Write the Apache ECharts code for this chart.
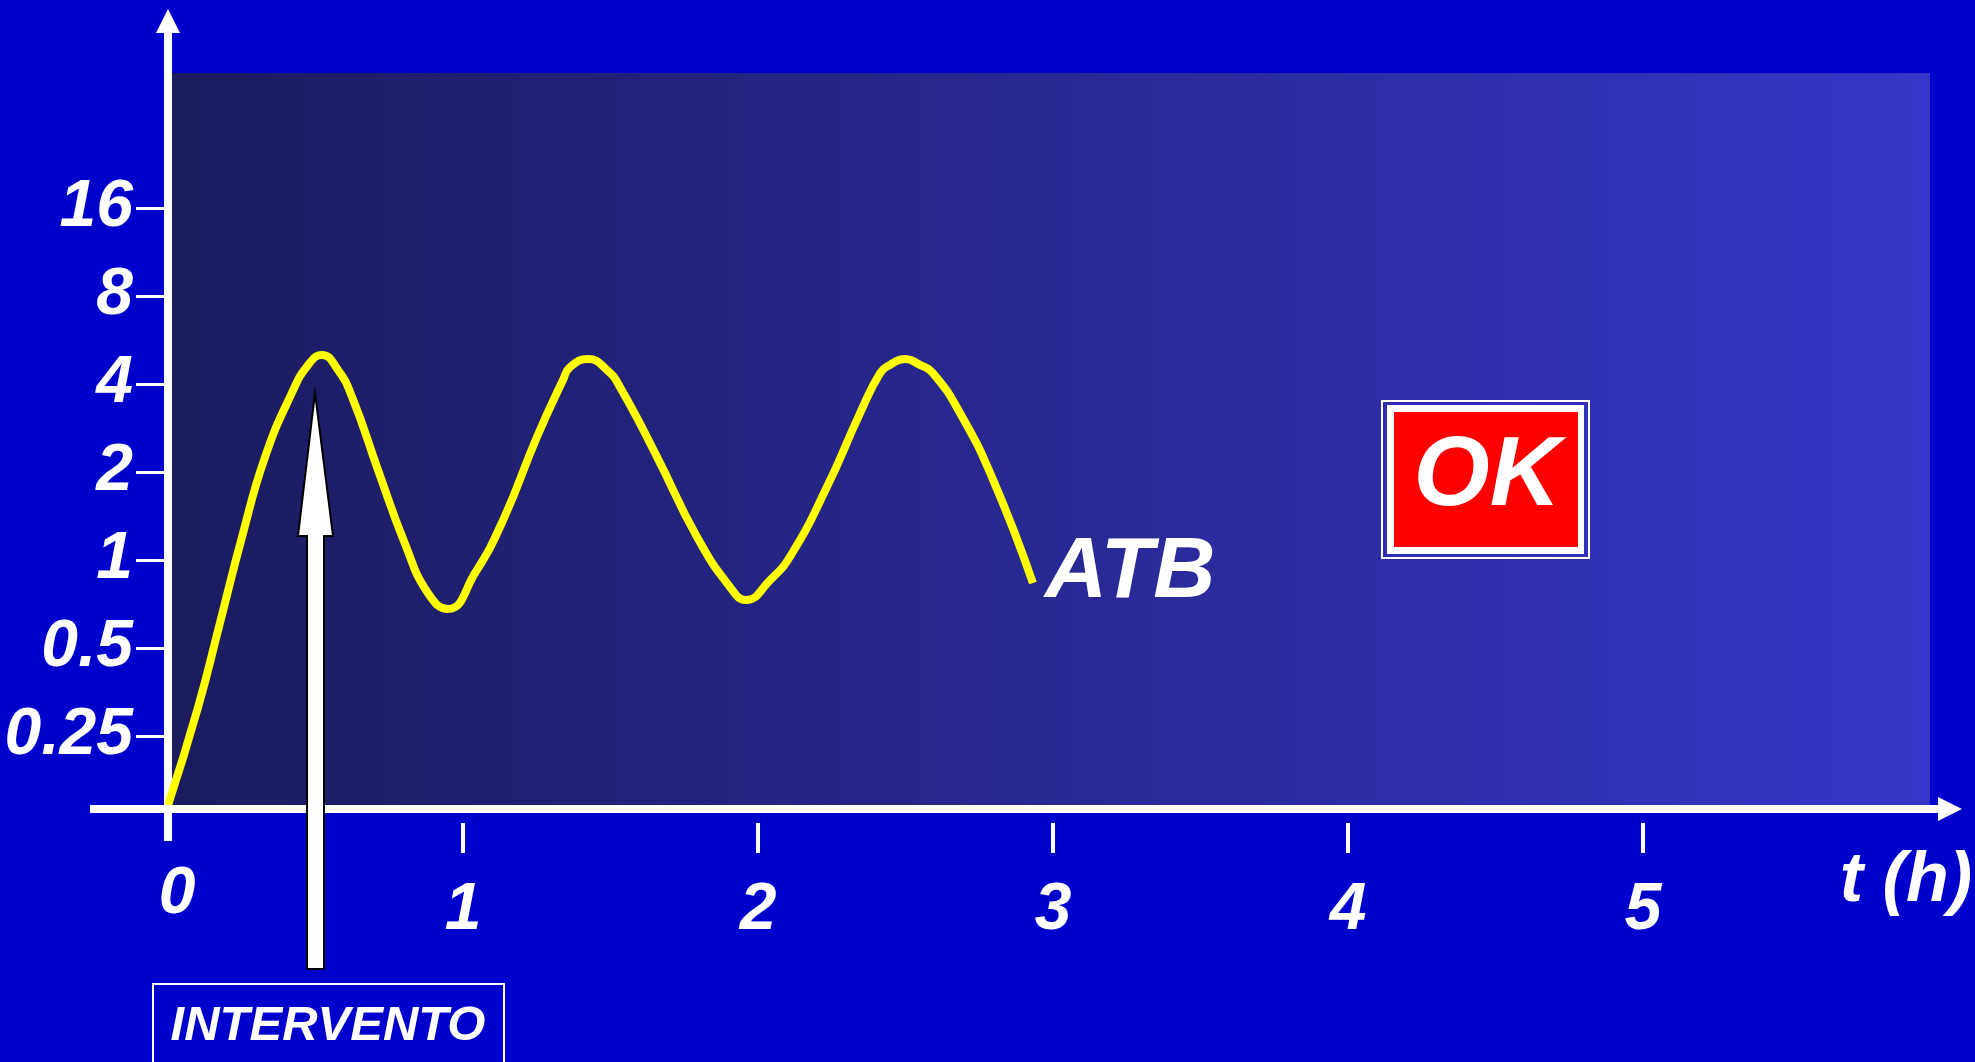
<!DOCTYPE html>
<html>
<head>
<meta charset="utf-8">
<script src="https://cdn.jsdelivr.net/npm/echarts@6/dist/echarts.min.js"></script>
<style>
html,body{margin:0;padding:0;background:#0000CC;}
#chart{width:1975px;height:1062px;}
</style>
</head>
<body>
<div id="chart"></div>
<script>
// ---- data ----
const timeH = [0, 0.102, 0.176, 0.251, 0.329, 0.420, 0.475, 0.522, 0.576, 0.624, 0.712, 0.803, 0.881, 0.949, 1.041, 1.136, 1.251, 1.339, 1.363, 1.424, 1.488, 1.532, 1.658, 1.793, 1.905, 1.959, 2.041, 2.112, 2.234, 2.346, 2.414, 2.447, 2.498, 2.549, 2.593, 2.685, 2.797, 2.932];
const atbConc = [0.145, 0.314, 0.609, 1.20, 2.25, 3.73, 4.65, 5.03, 4.47, 3.61, 2.03, 1.14, 0.771, 0.680, 0.903, 1.37, 2.64, 4.13, 4.57, 4.87, 4.47, 3.91, 2.25, 1.20, 0.809, 0.730, 0.854, 1.04, 1.78, 3.18, 4.36, 4.65, 4.87, 4.65, 4.36, 3.18, 1.88, 0.834];
const xTickValues = [1, 2, 3, 4, 5];
const xLabelValues = [0, 1, 2, 3, 4, 5];
const yTickValues = [0.25, 0.5, 1, 2, 4, 8, 16];
const seriesName = 'ATB';
const xAxisName = 't (h)';
const interventionLabel = 'INTERVENTO';
const okLabel = 'OK';

const FONT = "'Liberation Sans', Arial, sans-serif";
const chart = echarts.init(document.getElementById('chart'));

const option = {
  backgroundColor: '#0000CC',
  animation: false,
  grid: { left: 168, right: 25, top: 21, bottom: 253, containLabel: false, outerBoundsMode: 'none' },
  xAxis: [
    {
      type: 'value', min: 0, max: 6.0407,
      axisLine: { show: true, onZero: false, symbol: ['none', 'triangle'], symbolSize: [24, 24], lineStyle: { color: '#fff', width: 8 } },
      axisTick: { show: false }, axisLabel: { show: false }, splitLine: { show: false }
    },
    {
      type: 'value', min: 0, max: 6.0407, position: 'bottom', offset: 14,
      name: xAxisName, nameLocation: 'end', nameGap: 22,
      nameTextStyle: { color: '#fff', fontSize: 70, fontWeight: 'bold', fontStyle: 'italic', fontFamily: FONT, align: 'right', verticalAlign: 'top', lineHeight: 118 },
      axisLine: { show: false, onZero: false },
      axisTick: { show: true, customValues: xTickValues, length: 30, lineStyle: { color: '#fff', width: 4 } },
      axisLabel: {
        show: true, customValues: xLabelValues, margin: 88, verticalAlign: 'middle',
        color: '#fff', fontSize: 66, fontWeight: 'bold', fontStyle: 'italic', fontFamily: FONT,
        formatter: v => v === 0 ? '{z|0}' : '{n|' + v + '}',
        rich: {
          z: { color: '#fff', fontSize: 66, fontWeight: 'bold', fontStyle: 'italic', fontFamily: FONT, padding: [0, 0, 32, 18] },
          n: { color: '#fff', fontSize: 66, fontWeight: 'bold', fontStyle: 'italic', fontFamily: FONT }
        }
      },
      splitLine: { show: false }
    }
  ],
  yAxis: [
    {
      type: 'log', logBase: 2, min: 0.1407, max: 69.8,
      axisLine: { show: true, onZero: false, symbol: ['none', 'triangle'], symbolSize: [24, 24], lineStyle: { color: '#fff', width: 8 } },
      axisTick: { show: true, customValues: yTickValues, length: 32, lineStyle: { color: '#fff', width: 3 } },
      axisLabel: {
        show: true, customValues: yTickValues, margin: 35,
        color: '#fff', fontSize: 66, fontWeight: 'bold', fontStyle: 'italic', fontFamily: FONT
      },
      splitLine: { show: false }
    }
  ],
  series: [
    {
      name: seriesName, type: 'line', xAxisIndex: 0, yAxisIndex: 0,
      data: timeH.map((t, i) => [t, atbConc[i]]),
      smooth: 0.5, showSymbol: false, z: 5,
      lineStyle: { color: '#FFFF00', width: 8 },
      endLabel: {
        show: true, formatter: seriesName, distance: 12, offset: [0, -10],
        color: '#fff', fontSize: 86, fontWeight: 'bold', fontStyle: 'italic', fontFamily: FONT
      }
    }
  ],
  graphic: [
    {
      type: 'rect', z: -10, silent: true,
      shape: { x: 172, y: 73, width: 1758, height: 736 },
      style: { fill: new echarts.graphic.LinearGradient(0, 0, 1, 0, [
        { offset: 0, color: '#1B1B5F' }, { offset: 1, color: '#3636C8' }
      ]) }
    },
    { type: 'rect', z: 10, shape: { x: 90, y: 805, width: 82, height: 8 }, style: { fill: '#fff' } },
    { type: 'rect', z: 10, shape: { x: 164, y: 809, width: 8, height: 32 }, style: { fill: '#fff' } },
    {
      type: 'polygon', z: 100,
      shape: { points: [[315, 393], [333, 536], [324, 536], [324, 969], [307, 969], [307, 536], [298, 536]] },
      style: { fill: '#fff', stroke: '#000', lineWidth: 2 }
    },
    { type: 'rect', z: 100, shape: { x: 153, y: 984, width: 351, height: 100 }, style: { fill: 'none', stroke: '#fff', lineWidth: 2 } },
    {
      type: 'text', z: 100, x: 328, y: 1026,
      style: { text: interventionLabel, fill: '#fff', font: "italic bold 49px " + FONT, align: 'center', verticalAlign: 'middle' }
    },
    { type: 'rect', z: 100, shape: { x: 1382, y: 401, width: 207, height: 157 }, style: { fill: 'none', stroke: '#fff', lineWidth: 2 } },
    { type: 'rect', z: 100, shape: { x: 1386, y: 404, width: 199, height: 151 }, style: { fill: '#fff', stroke: '#3030C0', lineWidth: 2 } },
    { type: 'rect', z: 101, shape: { x: 1394, y: 412, width: 184, height: 135 }, style: { fill: '#FF0000' } },
    {
      type: 'text', z: 102, x: 1487, y: 478,
      style: { text: okLabel, fill: '#fff', font: "italic bold 98px " + FONT, align: 'center', verticalAlign: 'middle' }
    }
  ]
};
chart.setOption(option);
</script>
</body>
</html>
